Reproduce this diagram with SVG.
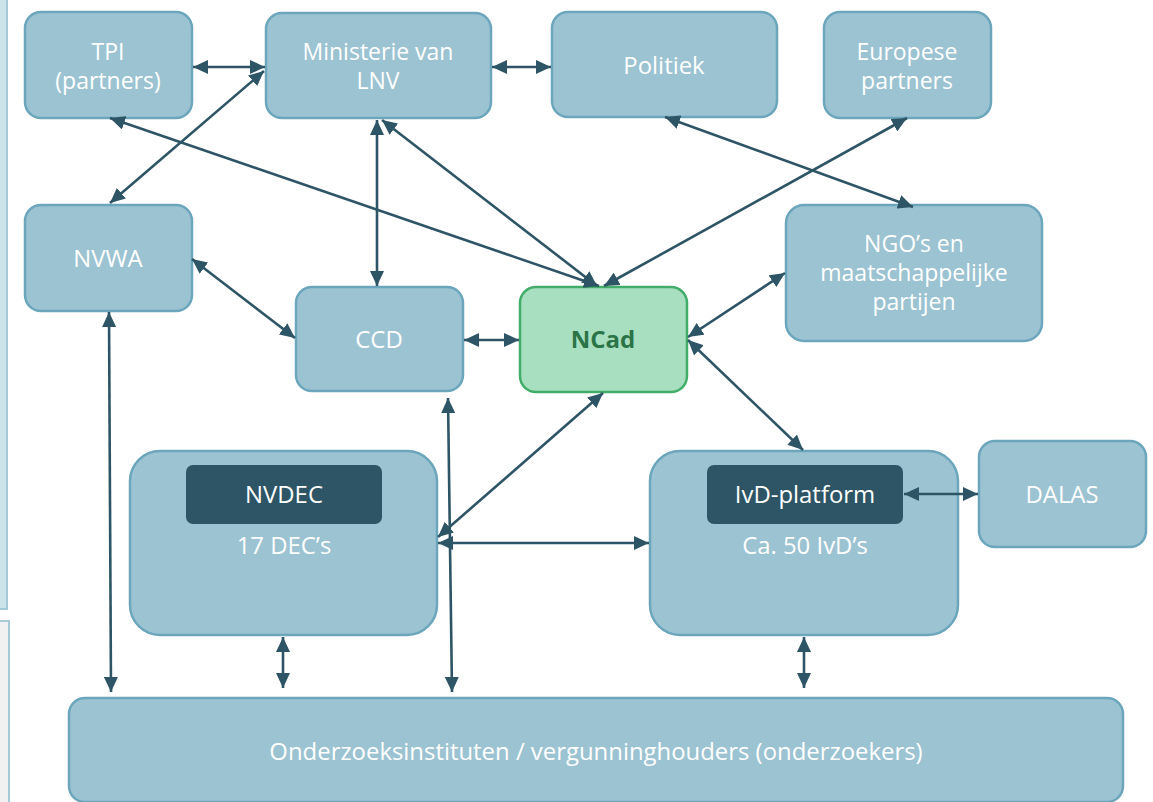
<svg xmlns="http://www.w3.org/2000/svg" width="1153" height="802" viewBox="0 0 1153 802">
<style>
.box{fill:#9cc3d1;stroke:#6ca6bd;stroke-width:2.5}
.inner{fill:#2e5565}
.t{font-family:"Open Sans","Noto Sans","Liberation Sans",sans-serif;font-size:23.9px;fill:#ffffff;text-anchor:middle}
.m{font-size:23px}
.nc{fill:#a8dfc0;stroke:#41ad69;stroke-width:2.5}
.nct{font-family:"Open Sans","Noto Sans","Liberation Sans",sans-serif;font-size:24px;font-weight:bold;fill:#2b7447;text-anchor:middle}
.c line{stroke:#2e5565;stroke-width:2.6;marker-start:url(#a);marker-end:url(#a)}
</style>
<defs>
<marker id="a" markerUnits="userSpaceOnUse" markerWidth="16" markerHeight="14" refX="15" refY="7" orient="auto-start-reverse" viewBox="0 0 16 14">
<path d="M0,0 L15,7 L0,14 z" fill="#2e5565"/>
</marker>
</defs>
<rect width="1153" height="802" fill="#ffffff"/>
<g id="frame">
<rect x="-2" y="-2" width="9" height="611" fill="#cde3ea" stroke="#a6cad8" stroke-width="2"/>
<rect x="-2" y="621" width="11" height="190" fill="#f1f1f1" stroke="#a6cad8" stroke-width="2"/>
</g>
<g id="tpi"><rect class="box" x="25" y="12" width="167" height="106" rx="16"/><text class="t m" x="108" y="59.5">TPI<tspan x="108" dy="29.5">(partners)</tspan></text></g>
<g id="lnv"><rect class="box" x="266" y="13" width="225" height="105" rx="16"/><text class="t m" x="378" y="59.5">Ministerie van<tspan x="378" dy="29.5">LNV</tspan></text></g>
<g id="politiek"><rect class="box" x="552" y="12" width="225" height="105" rx="16"/><text class="t" x="664" y="74">Politiek</text></g>
<g id="europese"><rect class="box" x="824" y="12" width="167" height="106" rx="16"/><text class="t m" x="907" y="59.5">Europese<tspan x="907" dy="29.5">partners</tspan></text></g>
<g id="nvwa"><rect class="box" x="25" y="205" width="167" height="106" rx="16"/><text class="t" x="108" y="267">NVWA</text></g>
<g id="ngo"><rect class="box" x="786" y="205" width="256" height="136" rx="18"/><text class="t m" x="914" y="252">NGO’s en<tspan x="914" dy="29">maatschappelijke</tspan><tspan x="914" dy="29">partijen</tspan></text></g>
<g id="ccd"><rect class="box" x="296" y="287" width="167" height="104" rx="16"/><text class="t" x="379" y="348">CCD</text></g>
<g id="ncad"><rect class="nc" x="520" y="287" width="167" height="105" rx="16"/><text class="nct" x="603" y="348">NCad</text></g>
<g id="nvdec"><rect class="box" x="130" y="451" width="307" height="184" rx="30"/><rect class="inner" x="186" y="465" width="196" height="59" rx="7"/><text class="t" x="284" y="503">NVDEC</text><text class="t" x="284" y="554">17 DEC’s</text></g>
<g id="ivd"><rect class="box" x="650" y="451" width="308" height="184" rx="30"/><rect class="inner" x="707" y="465" width="196" height="59" rx="7"/><text class="t" x="805" y="503">IvD-platform</text><text class="t" x="805" y="554">Ca. 50 IvD’s</text></g>
<g id="dalas"><rect class="box" x="979" y="441" width="167" height="106" rx="16"/><text class="t" x="1062" y="503">DALAS</text></g>
<g id="onderzoek"><rect class="box" x="69" y="698" width="1054" height="104" rx="16"/><text class="t" x="596" y="760">Onderzoeksinstituten / vergunninghouders (onderzoekers)</text></g>
<g id="connectors" class="c">
<line x1="193" y1="67" x2="265" y2="67"/>
<line x1="492" y1="67" x2="551" y2="67"/>
<line x1="264" y1="71" x2="110" y2="203"/>
<line x1="110" y1="118" x2="599" y2="286"/>
<line x1="377" y1="120" x2="377" y2="286"/>
<line x1="382" y1="120" x2="597" y2="286"/>
<line x1="665" y1="117" x2="913" y2="207"/>
<line x1="907" y1="118" x2="604" y2="286"/>
<line x1="192" y1="259" x2="295" y2="338"/>
<line x1="464" y1="340" x2="519" y2="340"/>
<line x1="688" y1="337" x2="785" y2="273"/>
<line x1="688" y1="340" x2="803" y2="450"/>
<line x1="603" y1="393" x2="438" y2="537"/>
<line x1="448" y1="398" x2="452" y2="692"/>
<line x1="438" y1="543" x2="649" y2="543"/>
<line x1="109" y1="312" x2="111" y2="692"/>
<line x1="283" y1="637" x2="283" y2="688"/>
<line x1="804" y1="637" x2="804" y2="688"/>
<line x1="904" y1="494" x2="978" y2="494"/>
</g>
</svg>
